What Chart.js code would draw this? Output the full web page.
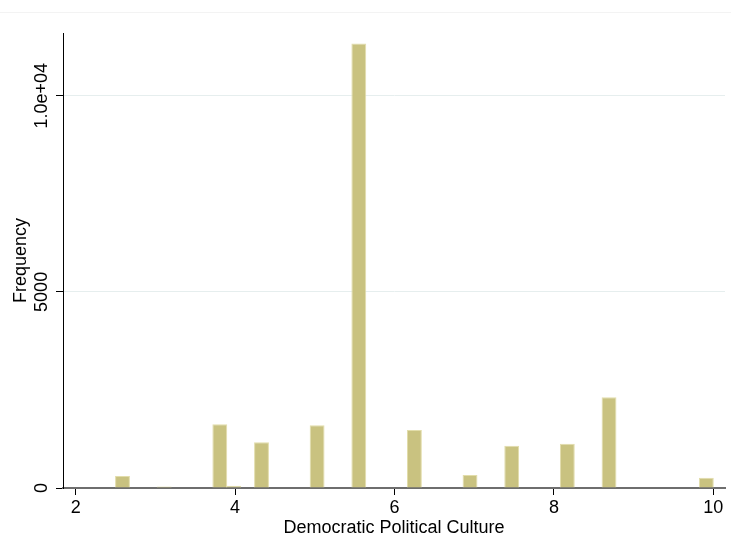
<!DOCTYPE html>
<html lang="en">
<head>
    <meta charset="UTF-8">
    <title>Democratic Political Culture</title>
    <script src="https://cdn.jsdelivr.net/npm/chart.js"></script>
    <style>
        body { margin: 0; background: #fff; }
        #wrap { position: relative; width: 731px; height: 558px; }
        #topline { position: absolute; left: 0; top: 12px; width: 731px; border-top: 1px solid #f3f3f3; }
    </style>
</head>
<body>
    <div id="wrap">
        <div id="topline"></div>
        <canvas id="histChart" width="731" height="558"></canvas>
    </div>

    <script>
        // histogram bins: 43 equal bins from 2.5 to 10
        const binLow = 2.5;
        const binHigh = 10;
        const counts = [
            306, 0, 0, 40, 0, 0, 0, 1625, 60, 0,
            1166, 0, 0, 0, 1600, 0, 0, 11330, 0, 0,
            0, 1480, 0, 0, 0, 332, 0, 0, 1080, 0,
            0, 0, 1130, 0, 0, 2314, 0, 0, 0, 0,
            0, 0, 263
        ];
        const xTicks = [2, 4, 6, 8, 10];
        const yTicks = [0, 5000, 10000];
        const yTickLabels = ["0", "5000", "1.0e+04"];

        const binWidth = (binHigh - binLow) / counts.length;
        const points = counts.map((c, i) => ({ x: binLow + (i + 0.5) * binWidth, y: c }));

        Chart.defaults.font.family = '"Liberation Sans", Arial, Helvetica, sans-serif';
        Chart.defaults.font.size = 18;
        Chart.defaults.color = "#000";

        const fillCol = "rgb(201,194,128)";
        const edgeCol = "rgb(226,221,170)";

        // y labels in Stata are turned 90 degrees, draw them by hand
        const yLabelPlugin = {
            id: "yLabels",
            afterDraw(chart) {
                const ctx = chart.ctx;
                const y = chart.scales.y;
                ctx.save();
                ctx.font = '18px "Liberation Sans", Arial, sans-serif';
                ctx.fillStyle = "#000";
                ctx.textAlign = "center";
                ctx.textBaseline = "middle";
                yTicks.forEach((v, i) => {
                    ctx.save();
                    ctx.translate(42, y.getPixelForValue(v));
                    ctx.rotate(-Math.PI / 2);
                    ctx.fillText(yTickLabels[i], 0, 0);
                    ctx.restore();
                });
                ctx.restore();
            }
        };

        new Chart(document.getElementById("histChart"), {
            type: "bar",
            data: {
                datasets: [{
                    data: points,
                    backgroundColor: c => (c.raw && c.raw.y > 0) ? fillCol : "rgba(0,0,0,0)",
                    borderColor: c => (c.raw && c.raw.y > 0) ? edgeCol : "rgba(0,0,0,0)",
                    borderWidth: 1,
                    borderSkipped: "bottom",
                    barPercentage: 1.07,
                    categoryPercentage: 1
                }]
            },
            options: {
                responsive: false,
                animation: false,
                layout: { padding: { left: 0, right: 6, top: 33, bottom: 0 } },
                plugins: {
                    legend: { display: false },
                    tooltip: { enabled: false }
                },
                scales: {
                    x: {
                        type: "linear",
                        offset: false,
                        min: 1.8407,
                        max: 10.147,
                        afterFit: s => { s.height = 70; },
                        afterBuildTicks: s => { s.ticks = xTicks.map(v => ({ value: v })); },
                        border: { color: "#6e6e6e", width: 2 },
                        grid: {
                            offset: false,
                            drawOnChartArea: false,
                            tickLength: 7,
                            tickColor: "#000",
                            tickWidth: 1
                        },
                        ticks: { padding: 2, maxRotation: 0, font: { size: 18 } },
                        title: {
                            display: true,
                            text: "Democratic Political Culture",
                            font: { size: 18 },
                            padding: { top: 0, bottom: 19 }
                        }
                    },
                    y: {
                        min: 0,
                        max: 11600,
                        afterFit: s => { s.width = 63; },
                        afterBuildTicks: s => { s.ticks = yTicks.map(v => ({ value: v })); },
                        border: { color: "#000", width: 1 },
                        grid: {
                            color: c => c.tick && c.tick.value === 0 ? "rgba(0,0,0,0)" : "#e6eeee",
                            tickColor: "#000",
                            tickLength: 7,
                            lineWidth: 1
                        },
                        ticks: { display: false },
                        title: {
                            display: true,
                            text: "Frequency",
                            font: { size: 18 },
                            padding: { top: 10, bottom: 0 }
                        }
                    }
                }
            },
            plugins: [yLabelPlugin]
        });
    </script>
</body>
</html>
